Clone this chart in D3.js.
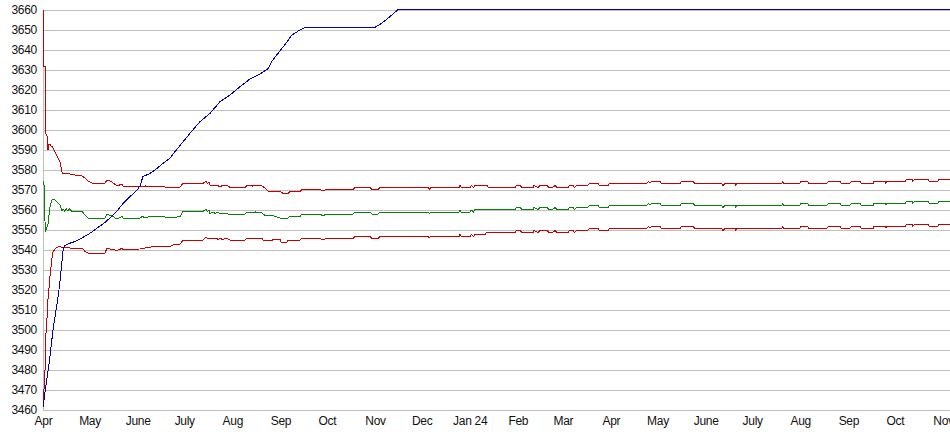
<!DOCTYPE html>
<html>
<head>
<meta charset="utf-8">
<script src="https://cdn.jsdelivr.net/npm/d3@7"></script>
<style>
  body { margin: 0; background: #fff; }
  .axis text { font-family: "Liberation Sans", Arial, sans-serif; font-size: 12px; letter-spacing: -0.3px; fill: #111; }
  .line { fill: none; stroke-width: 1px; shape-rendering: crispEdges; }
</style>
</head>
<body>
<div id="canvas"></div>
<script>
// month labels along the bottom, one per month from Apr 2023
var monthLabels = ['Apr','May','June','July','Aug','Sep','Oct','Nov','Dec','Jan 24',
                   'Feb','Mar','Apr','May','June','July','Aug','Sep','Oct','Nov'];
var yTicks = [3460,3470,3480,3490,3500,3510,3520,3530,3540,3550,3560,3570,3580,3590,3600,3610,3620,3630,3640,3650,3660];

// [days since 1 Apr 2023, value]
var upperRed = [
  [0.6,3660],[0.6,3632],[1.3,3632],[1.3,3602],[1.9,3598],[2.6,3597],[3.2,3590],[3.9,3593],[4.5,3593],[5.2,3592],[5.8,3592],
  [7.7,3589],[9.7,3586],[11,3584],[12.2,3579],[12.9,3578],[14,3578.5],[15,3578],[16,3578.5],[17.4,3578],
  [20.6,3577.5],[23.8,3577.5],[25.1,3577],[27.1,3576],[29,3574.5],[31.6,3573.5],[40,3573.5],[41.2,3575],
  [43.2,3574.5],[44.5,3574],[47.7,3572],[50.9,3573],[51.6,3572],[62.5,3572],[64.4,3571.5],[66,3572],
  [69,3571.5],[71,3572],[73.5,3571.5],[77.3,3572],[78.5,3571.5],[88.3,3571.5],[90.2,3573.3],[103.1,3573.3],
  [105,3574.3],[106,3573.3],[107,3574],[107.6,3572.5],[112.1,3572.5],[114.1,3571.5],[116,3572.5],[119.2,3572],
  [120.5,3571.3],[130.2,3571.3],[131.5,3572.3],[135,3572],[137,3572.3],[141.1,3572],[143.1,3571],[145,3569.5],
  [152.7,3569.5],[154.7,3568.3],[157.9,3568.3],[159.2,3569.3],[165.6,3569.3],[166.9,3570.3],[178.5,3570.3],
  [180.4,3569.5],[182.4,3570.3],[199.8,3570.3],[201,3571.3],[210.7,3571.3],[212,3570.3],[215.9,3570.3],
  [217.2,3571.3],[248,3571.3],[249,3570.5],[250,3571.3],[268.1,3571.3],[268.7,3572.3],[269.5,3571.3],
  [275.2,3571.3],[276,3572.3],[277.5,3571.3],[278.5,3572.3],[286.1,3572.3],[287,3571.3],[304.2,3571.3],
  [305,3572.3],[307.4,3572.3],[308.5,3571.3],[315.8,3571.3],[316.5,3572.3],[319,3571.3],[320.3,3572.3],
  [324.8,3572.3],[326,3571.3],[328.6,3571.3],[329.9,3572.3],[331.2,3571.3],[338.3,3571.3],[339.5,3572.3],
  [341.5,3572.3],[342.5,3571.3],[344.1,3572.3],[351.2,3572.3],[352,3573.3],[357.6,3573.3],[358.5,3572.3],
  [364.1,3572.3],[365,3573.3],[389.2,3573.3],[390,3574.3],[391,3573.8],[393.1,3574.3],[397.6,3574.3],
  [398.5,3573.3],[410.5,3573.3],[411.5,3574.3],[418.9,3574.3],[420,3573.3],[437.5,3573.3],[438.2,3572.3],
  [439.5,3573.3],[445.9,3573.3],[446.5,3572.3],[447.2,3573.3],[476.2,3573.3],[476.8,3574.3],[477.5,3573.3],
  [487.8,3573.3],[488.5,3574.3],[492.9,3574.3],[493.5,3573.3],[505.2,3573.3],[506,3574.3],[513.6,3574.3],
  [514.5,3573.3],[520,3573.3],[521,3574.3],[526.5,3574.3],[527.5,3573.3],[534.9,3573.3],[535.5,3574.3],
  [542.6,3574.3],[543.2,3573.3],[543.9,3574.3],[555.5,3574.3],[556.5,3575.3],[560,3575.3],[560.6,3574.3],
  [561.5,3575.3],[570.3,3575.3],[571,3574.3],[576.7,3574.3],[577.5,3575.3],[586,3575.3]
];

var middleGreen = [
  [0.6,3574.5],[1,3561.5],[1.5,3549],[3.2,3553],[4.5,3561.5],[5.8,3565],[7.1,3565.5],[9,3564],[11,3562.5],
  [12.2,3559.5],[13,3560.5],[14,3559.5],[15,3560.5],[16,3559.5],[17,3560.5],[18.7,3559.3],[25.1,3559.3],
  [27.1,3557.5],[29,3556],[40,3556],[41.2,3558],[43.2,3557.3],[44.5,3557],[47.7,3555.5],[50.9,3556.8],
  [51.6,3556],[62.5,3556],[64,3556.8],[66,3556],[69,3556.8],[85.1,3556.3],[88.3,3556.8],[90.2,3559.3],
  [103.1,3559.3],[105,3560.3],[106,3559.3],[107,3560],[107.6,3558.3],[110,3558.8],[111,3558.3],[112.1,3558.8],
  [114.1,3558.3],[119.2,3558],[130.2,3558],[131.5,3559],[135,3558.5],[137,3559],[141.1,3558.5],[143.1,3557.3],
  [147.6,3557.3],[150,3556.8],[152.7,3556],[157.9,3556],[159.2,3556.8],[165.6,3556.8],[166.9,3558],
  [178.5,3558],[180.4,3557],[182.4,3558],[199.8,3558],[201,3559],[210.7,3559],[212,3558],[215.9,3558],
  [217.2,3559],[248,3559],[249,3558.3],[250,3559],[268.1,3559],[268.7,3560],[269.5,3559],[275.2,3559],
  [276,3560],[277.5,3559],[278.5,3560.3],[304.2,3560.3],[305,3561.3],[307.4,3561.3],[308.5,3560.3],
  [315.8,3560.3],[316.5,3561.3],[319,3560.3],[320.3,3561.3],[324.8,3561.3],[326,3560.3],[328.6,3560.3],
  [329.9,3561.3],[331.2,3560.3],[338.3,3560.3],[339.5,3561.3],[341.5,3561.3],[342.5,3560.3],[344.1,3561.3],
  [351.2,3561.3],[352,3562.3],[357.6,3562.3],[358.5,3561.3],[364.1,3561.3],[365,3562.3],[389.2,3562.3],
  [390,3563.3],[391,3562.8],[393.1,3563.3],[397.6,3563.3],[398.5,3562.3],[410.5,3562.3],[411.5,3563.3],
  [418.9,3563.3],[420,3562.3],[437.5,3562.3],[438.2,3561.3],[439.5,3562.3],[445.9,3562.3],[446.5,3561.3],
  [447.2,3562.3],[476.2,3562.3],[476.8,3563.3],[477.5,3562.3],[487.8,3562.3],[488.5,3563.3],[492.9,3563.3],
  [493.5,3562.3],[505.2,3562.3],[506,3563.3],[513.6,3563.3],[514.5,3562.3],[520,3562.3],[521,3563.3],
  [526.5,3563.3],[527.5,3562.3],[534.9,3562.3],[535.5,3563.3],[542.6,3563.3],[543.2,3562.8],[543.9,3563.3],
  [555.5,3563.3],[556.5,3564.3],[560,3564.3],[560.6,3563.3],[561.5,3564.3],[570.3,3564.3],[571,3563.3],
  [576.7,3563.3],[577.5,3564.3],[586,3564.3]
];

var lowerRed = [
  [0,3465],[0.6,3470],[1.3,3480],[1.9,3498],[2.6,3506],[3.2,3515],[3.9,3521.5],[4.5,3527],[5.2,3532],
  [5.8,3536],[6.4,3539],[8.4,3541],[11,3542],[12.2,3541],[13,3541.5],[14,3541],[15,3541.5],[17.4,3541],
  [25.1,3541],[27.1,3539.3],[29,3538.5],[40,3538.5],[41.2,3541],[43.2,3540.5],[44.5,3540.3],[47.7,3539.8],
  [50.9,3540.8],[51.6,3540.3],[62.5,3540.5],[66,3541],[70.9,3541.7],[81.8,3541.7],[85.1,3543],[88.3,3543],
  [90.2,3544.7],[103.1,3545],[104,3545.8],[105,3546.3],[106,3545.8],[112.1,3545.8],[113,3545.2],[114.1,3545.8],
  [116,3545.2],[117.5,3545.8],[119.2,3545.5],[120.5,3545],[130.2,3545],[131.5,3545.8],[141.1,3545.8],
  [142,3544.7],[147.6,3544.7],[148.5,3545.5],[152.7,3545.5],[153.5,3543.8],[157.2,3543.8],[158,3545],
  [165.6,3545],[166.9,3545.8],[178.5,3545.8],[180.4,3545],[182.4,3545.8],[199.8,3545.8],[201,3546.8],
  [210.7,3546.8],[212,3545.8],[215.9,3545.8],[217.2,3546.8],[248,3546.8],[249,3546.2],[250,3546.8],
  [268.1,3546.8],[268.7,3547.8],[269.5,3546.8],[275.2,3546.8],[276,3547.8],[277.5,3546.8],[278.5,3547.8],
  [284.8,3547.8],[286,3548.8],[304.2,3548.8],[305,3549.8],[307.4,3549.8],[308.5,3548.8],[315.8,3548.8],
  [316.5,3549.8],[319,3548.8],[320.3,3549.8],[324.8,3549.8],[326,3548.8],[328.6,3548.8],[329.9,3549.8],
  [331.2,3548.8],[338.3,3548.8],[339.5,3549.8],[341.5,3549.8],[342.5,3548.8],[344.1,3549.8],[351.2,3549.8],
  [352,3550.8],[357.6,3550.8],[358.5,3549.8],[364.1,3549.8],[365,3550.8],[389.2,3550.8],[390,3551.8],
  [391,3551.3],[393.1,3551.8],[397.6,3551.8],[398.5,3550.8],[410.5,3550.8],[411.5,3551.8],[418.9,3551.8],
  [420,3550.8],[437.5,3550.8],[438.2,3549.8],[439.5,3550.8],[445.9,3550.8],[446.5,3549.8],[447.2,3550.8],
  [476.2,3550.8],[476.8,3551.8],[477.5,3550.8],[487.8,3550.8],[488.5,3551.8],[492.9,3551.8],[493.5,3550.8],
  [505.2,3550.8],[506,3551.8],[513.6,3551.8],[514.5,3550.8],[520,3550.8],[521,3551.8],[526.5,3551.8],
  [527.5,3550.8],[534.9,3550.8],[535.5,3551.8],[542.6,3551.8],[543.2,3551.3],[543.9,3551.8],[555.5,3551.8],
  [556.5,3552.8],[560,3552.8],[560.6,3551.8],[561.5,3552.8],[570.3,3552.8],[571,3551.8],[576.7,3551.8],
  [577.5,3552.8],[586,3552.8]
];

var blueLine = [
  [0,3461.5],[1.5,3470],[3,3478],[4.5,3487],[6.6,3501],[8.8,3512],[10,3518],[11,3525],[12.1,3533],[13.1,3541],
  [14.2,3542.3],[16,3543],[18.5,3543.7],[21.5,3544.5],[24.5,3545.8],[29,3547.8],[31.6,3549],[34.8,3551],
  [38.7,3553],[43.2,3556],[47.7,3559.5],[51.6,3563.3],[56.1,3566.7],[60.6,3570],[62.5,3572],[64.4,3576.7],
  [69,3578.3],[73.5,3580.8],[77.3,3583.3],[81.8,3585.8],[85.1,3589.2],[94.7,3598.3],[101.2,3604.2],
  [107.6,3608.3],[114.1,3614.2],[120.5,3617.5],[127,3621.7],[133.4,3625.5],[139.8,3628],[145.2,3630.8],
  [147.3,3634.2],[150.6,3637.5],[154.9,3641.7],[158.1,3645],[160.3,3647.5],[165.6,3650],[168.8,3651.3],
  [213.9,3651.3],[218.2,3653.3],[223.6,3656.7],[229,3660.3],[586,3660.3]
];

var m = {t:10, r:0, b:25, l:43};
var outerWidth = 950, outerHeight = 435;
var w = outerWidth - m.l - m.r,
    h = outerHeight - m.t - m.b;

var start = new Date(2023, 3, 1),
    end = new Date(2024, 10, 1);

var svg = d3.select('#canvas')
    .append('svg')
    .attr('width', outerWidth)
    .attr('height', outerHeight);
var plot = svg.append('g')
    .attr('transform', 'translate(' + m.l + ',' + m.t + ')');

var scaleX = d3.scaleTime().domain([start, end]).range([0, 900]),
    scaleY = d3.scaleLinear().domain([3460, 3660]).range([h, 0]);

function dayToDate(d){ return new Date(start.getTime() + d * 864e5); }

// grid + y labels
var axisY = d3.axisLeft(scaleY)
    .tickValues(yTicks)
    .tickFormat(d3.format('d'))
    .tickSize(-w)
    .tickPadding(6);
var gy = plot.append('g').attr('class', 'axis axis-y').call(axisY);
gy.select('.domain').remove();
gy.selectAll('line').attr('stroke', '#c0c0c0');

var months = d3.timeMonth.range(start, d3.timeDay.offset(end, 1));
var axisX = d3.axisBottom(scaleX)
    .tickValues(months)
    .tickFormat(function(d, i){ return monthLabels[i]; })
    .tickSize(0)
    .tickPadding(6.5);
var gx = plot.append('g')
    .attr('class', 'axis axis-x')
    .attr('transform', 'translate(0,' + h + ')')
    .call(axisX);
gx.select('.domain').remove();

plot.append('line')
    .attr('x1', 0.5).attr('x2', 0.5)
    .attr('y1', 0).attr('y2', h)
    .attr('stroke', '#c0c0c0');

var line = d3.line()
    .x(function(d){ return scaleX(dayToDate(d[0])); })
    .y(function(d){ return scaleY(d[1]); });

var series = [
  {data: upperRed, color: '#c40000'},
  {data: lowerRed, color: '#c40000'},
  {data: middleGreen, color: '#0a800a'},
  {data: blueLine, color: '#0000b0'}
];
series.forEach(function(s){
  plot.append('path')
    .attr('class', 'line')
    .attr('d', line(s.data))
    .attr('stroke', s.color);
});
</script>
</body>
</html>
